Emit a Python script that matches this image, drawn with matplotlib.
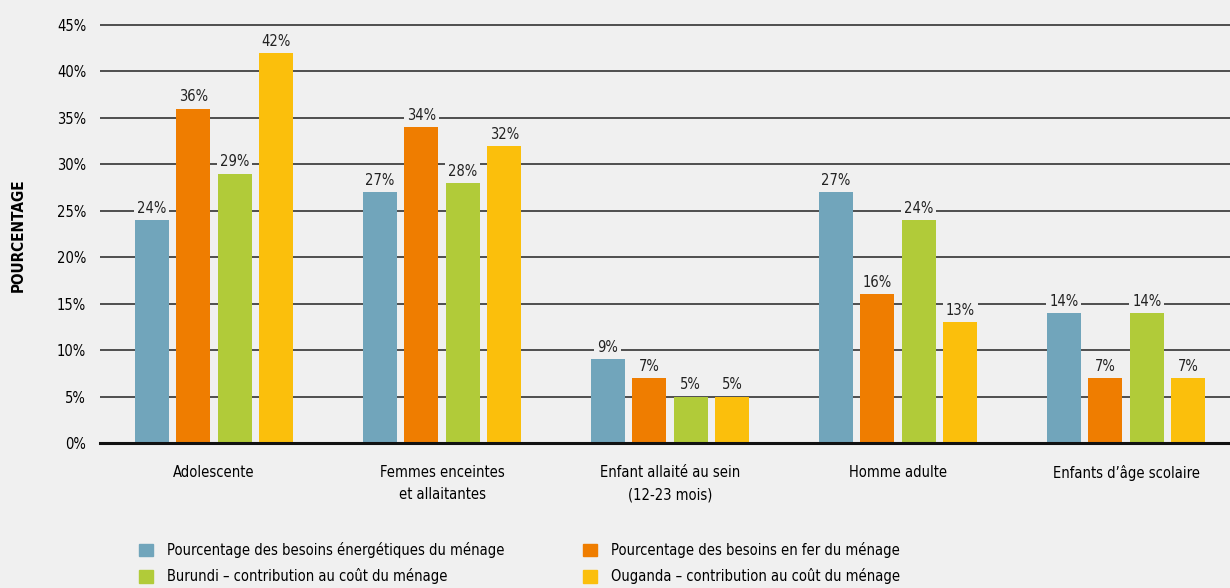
import matplotlib
matplotlib.use("Agg")
import matplotlib.pyplot as plt
import numpy as np
from matplotlib.patches import Patch

plt.rcParams['font.family'] = ['DejaVu Sans']
plt.rcParams['font.stretch'] = 'condensed'

categories = ["Adolescente", "Femmes enceintes\net allaitantes",
              "Enfant allaité au sein\n(12-23 mois)", "Homme adulte",
              "Enfants d\u2019âge scolaire"]
series_names = ["Pourcentage des besoins énergétiques du ménage",
                "Pourcentage des besoins en fer du ménage",
                "Burundi \u2013 contribution au coût du ménage",
                "Ouganda \u2013 contribution au coût du ménage"]
energie = [24, 27, 9, 27, 14]
fer = [36, 34, 7, 16, 7]
burundi = [29, 28, 5, 24, 14]
ouganda = [42, 32, 5, 13, 7]
colors = ["#71a5bb", "#ef7d00", "#b1cb39", "#fbbf0c"]
yticks = [0, 5, 10, 15, 20, 25, 30, 35, 40, 45]

bg = "#f0f0f0"
fig = plt.figure(figsize=(12.3, 5.88), dpi=100, facecolor=bg)
ax = fig.add_axes([0.0813, 0.2466, 0.9187, 0.7141], facecolor=bg)

x = np.arange(len(categories))
width = 0.149
step = 0.182
all_series = [energie, fer, burundi, ouganda]
for i, vals in enumerate(all_series):
    off = (i - 1.5) * step
    bars = ax.bar(x + off, vals, width, color=colors[i], zorder=3)
    for b, v in zip(bars, vals):
        ax.annotate(f"{v}%", (b.get_x() + b.get_width() / 2, v),
                    xytext=(0, 3), textcoords="offset points",
                    ha="center", va="bottom", fontsize=10.5, color="#222222",
                    bbox=dict(boxstyle="square,pad=0.2", fc=bg, ec="none"),
                    zorder=4)

ax.set_xlim(-0.5, 4.456)
ax.set_ylim(0, 45.2)
ax.set_yticks(yticks)
ax.set_yticklabels([f"{t}%" for t in yticks], fontsize=10.5)
ax.yaxis.grid(True, color="#333333", linewidth=1.2, zorder=0)
ax.set_axisbelow(True)
ax.set_xticks(x)
ax.set_xticklabels(categories, fontsize=10.5, linespacing=1.6)
ax.tick_params(axis="both", length=0)
ax.tick_params(axis="x", pad=16)
ax.tick_params(axis="y", pad=10)
for s in ["top", "right", "left"]:
    ax.spines[s].set_visible(False)
ax.spines["bottom"].set_linewidth(2.2)
ax.spines["bottom"].set_color("#111111")
ax.spines["bottom"].set_zorder(5)

fig.text(0.015, 0.60, "POURCENTAGE", rotation=90, ha="center", va="center",
         fontsize=11, fontweight="bold")

handles = [Patch(color=c) for c in colors]
fig.legend([handles[0], handles[2], handles[1], handles[3]],
           [series_names[0], series_names[2], series_names[1], series_names[3]],
           ncol=2, loc="lower left", bbox_to_anchor=(0.1025, -0.016),
           frameon=False, fontsize=10.5, handlelength=0.95, handleheight=0.95,
           columnspacing=5.4, labelspacing=0.7, handletextpad=0.95)

fig.savefig("out.png", dpi=100, facecolor=bg)
